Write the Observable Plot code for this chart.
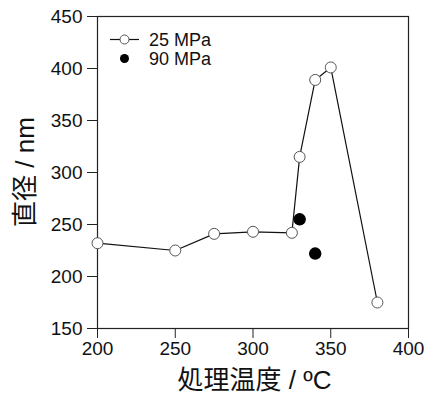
<!DOCTYPE html>
<html><head><meta charset="utf-8">
<script src="https://cdn.jsdelivr.net/npm/d3@7"></script>
<script src="https://cdn.jsdelivr.net/npm/@observablehq/plot@0.6"></script>
<style>
html,body{margin:0;padding:0;background:#fff;}
#chart{position:relative;width:428px;height:394px;}
</style></head>
<body><div id="chart"></div>
<script>
const temp25 = [200, 250, 275, 300, 325, 330, 340, 350, 380];
const diam25 = [232, 225, 241, 243, 242, 315, 389, 401, 175];
const temp90 = [330, 340];
const diam90 = [255, 222];
const xTicks = [200, 250, 300, 350, 400];
const yTicks = [150, 200, 250, 300, 350, 400, 450];
const series = ["25 MPa", "90 MPa"];
const xLabel = "処理温度 / ºC";
const yLabel = "直径 / nm";

const d25 = temp25.map((t, i) => ({t, d: diam25[i]}));
const d90 = temp90.map((t, i) => ({t, d: diam90[i]}));

const font = '"Liberation Sans", Arial, "Noto Sans CJK JP", sans-serif';
const W = 428, H = 394;
const mL = 97, mR = 20, mT = 16, mB = 66;

const chart = Plot.plot({
  width: W, height: H,
  marginLeft: mL, marginRight: mR, marginTop: mT, marginBottom: mB,
  style: {fontFamily: font, fontSize: "19px", color: "#111", background: "#fff"},
  x: {domain: [200, 400]},
  y: {domain: [150, 450]},
  marks: [
    Plot.frame({stroke: "#222", strokeWidth: 1.2}),
    Plot.axisX({ticks: xTicks, tickSize: 10, tickPadding: 3, label: null, fontSize: 19, stroke: "#222", tickFormat: d => String(d)}),
    Plot.axisY({ticks: yTicks, tickSize: 10, tickPadding: 5, label: null, fontSize: 19, stroke: "#222", tickFormat: d => String(d)}),
    Plot.line(d25, {x: "t", y: "d", stroke: "#111", strokeWidth: 1.2}),
    Plot.dot(d25, {x: "t", y: "d", r: 5.5, fill: "#fff", stroke: "#555", strokeWidth: 1}),
    Plot.dot(d90, {x: "t", y: "d", r: 5.5, fill: "#000", stroke: "#000"})
  ]
});
const svg = d3.select(chart);
svg.selectAll('g[aria-label="x-axis tick label"], g[aria-label="y-axis tick label"]')
  .style("font-size", "19px").attr("font-size", 19);
svg.selectAll('g[aria-label="x-axis tick label"] text, g[aria-label="y-axis tick label"] text')
  .style("font-size", "19px");
// axis titles
svg.append("text")
  .attr("x", mL + (W - mL - mR) / 2 + 2).attr("y", 389)
  .attr("text-anchor", "middle")
  .style("font-family", font).style("font-size", "26px").attr("fill", "#111")
  .text(xLabel);
svg.append("text")
  .attr("transform", `translate(34,${mT + (H - mT - mB) / 2}) rotate(-90)`)
  .attr("text-anchor", "middle")
  .style("font-family", font).style("font-size", "26px").attr("fill", "#111")
  .text(yLabel);
// legend
const lg = svg.append("g").attr("transform", `translate(${mL},${mT})`);
lg.append("line").attr("x1", 13).attr("x2", 42).attr("y1", 23.5).attr("y2", 23.5).attr("stroke", "#111").attr("stroke-width", 1.2);
lg.append("circle").attr("cx", 27.5).attr("cy", 23.5).attr("r", 4.5).attr("fill", "#fff").attr("stroke", "#555");
lg.append("circle").attr("cx", 27.5).attr("cy", 42.5).attr("r", 4.5).attr("fill", "#000");
lg.selectAll("text.lg").data(series).join("text")
  .attr("x", 52).attr("y", (d, i) => 23.5 + 19 * i).attr("dy", "0.35em")
  .attr("text-anchor", "start")
  .style("font-family", font).style("font-size", "18px").attr("fill", "#111")
  .text(d => d);
document.getElementById("chart").appendChild(chart);
</script></body></html>
